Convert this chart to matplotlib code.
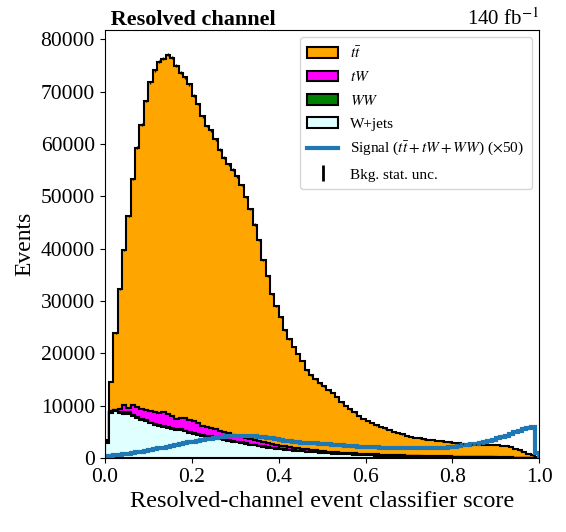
import numpy as np
import matplotlib
matplotlib.use("Agg")
import matplotlib.pyplot as plt
from matplotlib.patches import Patch
from matplotlib.lines import Line2D

plt.rcParams['font.family'] = ['Liberation Serif', 'DejaVu Serif']
plt.rcParams['mathtext.fontset'] = 'stix'

# 100 bins on [0, 1], yields in thousands of events
edges = np.linspace(0, 1, 101)

wjets = [2.9, 8.6, 8.9, 8.6, 8.5, 8.5, 8.1, 7.7, 7.3, 7.0,
         6.6, 6.4, 6.2, 6.0, 5.8, 5.6, 5.4, 5.3, 5.1, 4.8,
         4.6, 4.4, 4.3, 4.1, 4.0, 3.8, 3.6, 3.5, 3.3, 3.1,
         3.0, 2.9, 2.7, 2.5, 2.4, 2.3, 2.2, 2.0, 1.9, 1.8,
         1.7, 1.6, 1.5, 1.42, 1.35, 1.28, 1.2, 1.14, 1.08, 1.02,
         0.96, 0.9, 0.85, 0.8, 0.76, 0.72, 0.68, 0.64, 0.6, 0.57,
         0.54, 0.51, 0.48, 0.45, 0.43, 0.41, 0.39, 0.37, 0.35, 0.33,
         0.31, 0.3, 0.28, 0.27, 0.26, 0.25, 0.23, 0.22, 0.21, 0.2,
         0.19, 0.18, 0.17, 0.16, 0.15, 0.14, 0.13, 0.12, 0.11, 0.1,
         0.09, 0.08, 0.07, 0.06, 0.05, 0.04, 0.03, 0.02, 0.02, 0.01]

ww = [0.03, 0.2, 0.22, 0.22, 0.22, 0.22, 0.21, 0.21, 0.2, 0.2,
      0.19, 0.19, 0.18, 0.18, 0.17, 0.17, 0.16, 0.16, 0.15, 0.15,
      0.14, 0.14, 0.13, 0.13, 0.12, 0.12, 0.11, 0.11, 0.1, 0.1,
      0.1, 0.09, 0.09, 0.08, 0.08, 0.08, 0.07, 0.07, 0.07, 0.06,
      0.06, 0.06, 0.05, 0.05, 0.05, 0.05, 0.04, 0.04, 0.04, 0.04,
      0.03, 0.03, 0.03, 0.03, 0.03, 0.03, 0.03, 0.03, 0.03, 0.03,
      0.02, 0.02, 0.02, 0.02, 0.02, 0.02, 0.02, 0.02, 0.02, 0.02,
      0.02, 0.02, 0.02, 0.02, 0.02, 0.02, 0.02, 0.02, 0.02, 0.02,
      0.01, 0.01, 0.01, 0.01, 0.01, 0.01, 0.01, 0.01, 0.01, 0.01,
      0.01, 0.01, 0.01, 0.01, 0.01, 0.01, 0.01, 0.01, 0.01, 0.01]

tw = [0.07, 0.2, 0.15, 0.58, 1.38, 0.78, 1.89, 1.79, 1.9, 2.0,
      2.11, 2.21, 2.22, 2.62, 2.43, 2.23, 1.94, 2.24, 2.35, 2.25,
      2.26, 2.06, 1.77, 1.77, 1.68, 1.58, 1.49, 1.39, 1.3, 1.2,
      1.2, 1.01, 1.01, 1.02, 0.92, 0.82, 0.73, 0.73, 0.63, 0.54,
      0.54, 0.55, 0.52, 0.5, 0.47, 0.45, 0.42, 0.4, 0.38, 0.36,
      0.34, 0.32, 0.3, 0.28, 0.27, 0.26, 0.25, 0.24, 0.23, 0.22,
      0.21, 0.2, 0.19, 0.18, 0.17, 0.16, 0.15, 0.15, 0.14, 0.13,
      0.13, 0.12, 0.12, 0.11, 0.11, 0.1, 0.1, 0.09, 0.09, 0.09,
      0.08, 0.08, 0.08, 0.07, 0.07, 0.07, 0.06, 0.06, 0.06, 0.05,
      0.05, 0.05, 0.04, 0.04, 0.04, 0.03, 0.03, 0.02, 0.02, 0.01]

ttbar = [0.4, 5.6, 14.6, 22.8, 29.6, 36.7, 43.1, 49.6, 54.3, 59.0,
         62.9, 65.3, 67.1, 67.5, 68.6, 68.5, 67.4, 65.9, 65.1, 64.2,
         62.2, 61.0, 59.1, 57.4, 56.8, 55.4, 53.7, 52.4, 51.4, 50.7,
         49.5, 48.2, 46.0, 44.0, 41.2, 38.5, 34.9, 31.9, 28.8, 26.7,
         24.6, 22.3, 20.6, 19.3, 18.1, 16.8, 15.1, 14.3, 13.6, 12.9,
         12.4, 11.75, 11.3, 10.6, 9.65, 9.0, 8.35, 7.8, 7.25, 6.7,
         6.35, 6.05, 5.6, 5.35, 5.1, 4.8, 4.45, 4.25, 4.0, 3.8,
         3.65, 3.45, 3.35, 3.2, 3.1, 3.05, 2.95, 2.85, 2.8, 2.7,
         2.6, 2.55, 2.5, 2.45, 2.4, 2.4, 2.35, 2.3, 2.3, 2.35,
         2.3, 2.25, 2.2, 2.0, 1.7, 1.4, 1.05, 0.75, 0.45, 0.17]

# signal already scaled x50
signal_x50 = [0.3, 0.4, 0.5, 0.6, 0.75, 0.85, 1.0, 1.1, 1.25, 1.4,
              1.55, 1.7, 1.85, 2.0, 2.2, 2.35, 2.5, 2.65, 2.8, 3.0,
              3.15, 3.3, 3.45, 3.6, 3.7, 3.85, 3.95, 4.05, 4.15, 4.2,
              4.3, 4.3, 4.3, 4.25, 4.2, 4.1, 4.0, 3.9, 3.75, 3.6,
              3.45, 3.35, 3.2, 3.1, 3.0, 2.95, 2.9, 2.85, 2.8, 2.7,
              2.65, 2.6, 2.5, 2.45, 2.4, 2.35, 2.3, 2.25, 2.2, 2.2,
              2.15, 2.1, 2.05, 2.0, 2.0, 1.95, 1.95, 1.9, 1.9, 1.85,
              1.85, 1.85, 1.85, 1.85, 1.85, 1.9, 1.9, 1.95, 2.0, 2.05,
              2.15, 2.25, 2.4, 2.5, 2.6, 2.75, 2.9, 3.1, 3.3, 3.5,
              3.75, 4.0, 4.3, 4.6, 4.9, 5.2, 5.5, 5.8, 5.9, 0.9]

colors = ['lightcyan', 'green', 'magenta', 'orange']

centers = 0.5 * (edges[:-1] + edges[1:])
layers = [np.array(v) * 1000 for v in (wjets, ww, tw, ttbar)]
total = np.sum(layers, axis=0)

fig = plt.figure(figsize=(5.66, 5.32), dpi=100)
ax = fig.add_axes([0.185, 0.139, 0.768, 0.805])

ax.hist([centers] * 4, bins=edges, weights=layers, stacked=True,
        histtype='stepfilled', color=colors, edgecolor='black', linewidth=1.5)
ax.stairs(np.array(signal_x50) * 1000, edges, color='tab:blue', linewidth=3)
ax.errorbar(centers, total, yerr=np.sqrt(total), fmt='none', ecolor='black', elinewidth=1)

ax.set_xlim(0, 1)
ax.set_ylim(0, 81800)
ax.set_xticks([0.0, 0.2, 0.4, 0.6, 0.8, 1.0])
ax.set_yticks(np.arange(0, 80001, 10000))
ax.tick_params(labelsize=15.5)
ax.set_xlabel('Resolved-channel event classifier score', fontsize=17.5, labelpad=3)
ax.set_ylabel('Events', fontsize=17)
ax.set_title(' Resolved channel', loc='left', fontsize=16, fontweight='bold', pad=3)
ax.set_title('140 fb$^{-1}$', loc='right', fontsize=15, pad=3)

handles = [
    Patch(facecolor='orange', edgecolor='black', linewidth=1.5),
    Patch(facecolor='magenta', edgecolor='black', linewidth=1.5),
    Patch(facecolor='green', edgecolor='black', linewidth=1.5),
    Patch(facecolor='lightcyan', edgecolor='black', linewidth=1.5),
    Line2D([], [], color='tab:blue', linewidth=3),
    Line2D([], [], color='black', marker='|', linestyle='none', markersize=12, markeredgewidth=2),
]
labels = [r'$t\bar{t}$', r'$tW$', r'$WW$', 'W+jets',
          r'Signal ($t\bar{t}+tW+WW$) ($\times$50)', 'Bkg. stat. unc.']
ax.legend(handles, labels, loc='upper right', fontsize=11, borderpad=0.5,
          labelspacing=0.62, handlelength=2.0, frameon=True)

fig.savefig('out.png', dpi=100)
